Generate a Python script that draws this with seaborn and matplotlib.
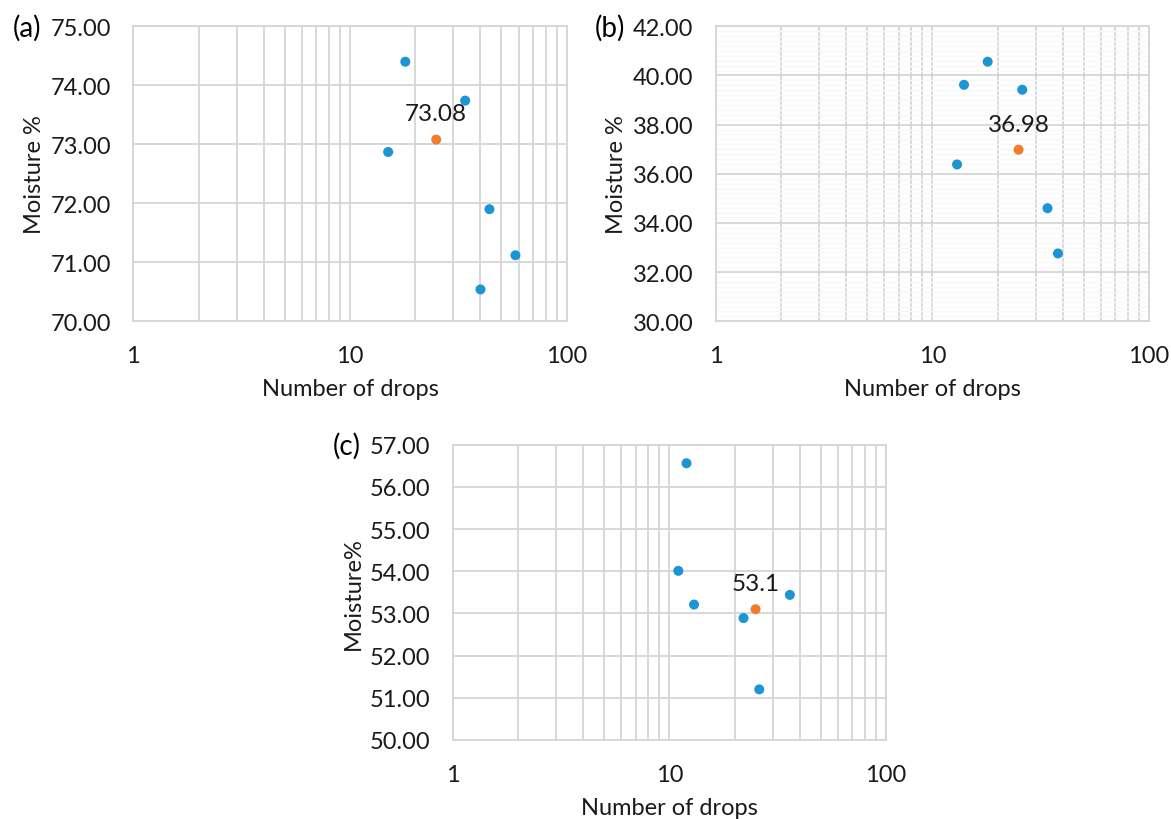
import numpy as np
import pandas as pd
import matplotlib
matplotlib.use('Agg')
import matplotlib.pyplot as plt
import seaborn as sns
from matplotlib.ticker import FixedLocator, NullFormatter, FuncFormatter

sns.set_style('white')
plt.rcParams['font.family'] = ['Lato', 'DejaVu Sans']

# ---- data ----
drops_a = [18, 34, 15, 44, 58, 40, 25]
moist_a = [74.40, 73.74, 72.87, 71.90, 71.12, 70.54, 73.08]
drops_b = [18, 14, 26, 13, 34, 38, 25]
moist_b = [40.56, 39.62, 39.42, 36.38, 34.60, 32.76, 36.98]
drops_c = [12, 11, 13, 22, 36, 26, 25]
moist_c = [56.56, 54.01, 53.21, 52.89, 53.44, 51.20, 53.10]
kind = ['trial'] * 6 + ['liquid limit']

panel_names = ['(a)', '(b)', '(c)']
y_labels = ['Moisture %', 'Moisture %', 'Moisture%']
y_limits = [(70, 75), (30, 42), (50, 57)]
y_steps = [1, 2, 1]
ll_labels = ['73.08', '36.98', '53.1']

BLUE = '#1c95d5'
ORANGE = '#ef7d2d'
GRID = '#d6d6d6'
TXT = '#1a1a1a'

W, H = 1171, 820
fig = plt.figure(figsize=(W / 100, H / 100), dpi=100)
# axes boxes in pixels: left, top, right, bottom
boxes = [(133.3, 27.3, 566.7, 322.3),
         (715.7, 27.3, 1149.0, 322.3),
         (452.7, 445.7, 886.0, 741.0)]
datasets = [(drops_a, moist_a), (drops_b, moist_b), (drops_c, moist_c)]

for i, (xs, ys) in enumerate(datasets):
    l, t, r, b = boxes[i]
    ax = fig.add_axes([l / W, 1 - b / H, (r - l) / W, (b - t) / H])
    df = pd.DataFrame({'drops': xs, 'moisture': ys, 'kind': kind})
    ax.set_xscale('log')
    # faint minor horizontal gridlines only on panel (b)
    if i == 1:
        ax.yaxis.set_minor_locator(FixedLocator(np.arange(30, 42.01, 0.2)))
        ax.grid(True, which='minor', axis='y', color='#f8f8f8', linewidth=1.0)
    ax.grid(True, which='major', color=GRID, linewidth=1.3)
    ax.grid(True, which='minor', axis='x', color=GRID, linewidth=1.3)
    ax.set_axisbelow(True)
    sns.scatterplot(data=df, x='drops', y='moisture', hue='kind',
                    palette={'trial': BLUE, 'liquid limit': ORANGE},
                    s=52, linewidth=0, legend=False, ax=ax, zorder=3)
    ax.set_xlim(1, 100)
    lo, hi = y_limits[i]
    ax.set_ylim(lo, hi)
    ax.set_yticks(np.arange(lo, hi + 0.01, y_steps[i]))
    ax.yaxis.set_major_formatter(FuncFormatter(lambda v, p: f'{v:.2f}'))
    ax.set_xticks([1, 10, 100])
    ax.set_xticklabels(['1', '10', '100'])
    ax.xaxis.set_minor_formatter(NullFormatter())
    ax.tick_params(axis='both', which='both', length=0, labelsize=17, colors=TXT)
    ax.tick_params(axis='x', pad=17)
    ax.tick_params(axis='y', pad=16)
    for sp in ax.spines.values():
        sp.set_color(GRID)
        sp.set_linewidth(1.3)
    ax.set_xlabel('Number of drops', fontsize=17, color=TXT, labelpad=9)
    ax.set_ylabel(y_labels[i], fontsize=17, color=TXT, labelpad=4)
    ax.annotate(ll_labels[i], (xs[-1], ys[-1]), xytext=(0, 18.5), textcoords='offset points',
                ha='center', va='center', fontsize=17.5, color=TXT)
    fig.text((l - 106) / W, 1 - (t + 1) / H, panel_names[i],
             fontsize=20, color='black', ha='center', va='center')

fig.savefig('out.png', dpi=100)
